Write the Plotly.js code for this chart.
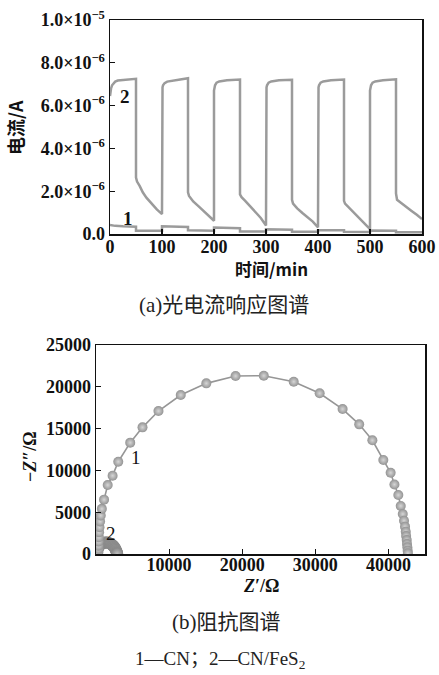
<!DOCTYPE html>
<html>
<head>
<meta charset="utf-8">
<script src="https://cdn.plot.ly/plotly-3.0.1.min.js"></script>
<style>html,body{margin:0;padding:0;background:#fff;}#chart{width:439px;height:675px;}</style>
</head>
<body>
<div id="chart"></div>
<script>
// ---------- (a) photocurrent response ----------
const timeMin_CN = [0,10,25,50,50,100,100,150,150,200,200,250,250,300,300,350,350,400,400,450,450,500,500,550,550,600];
const current_CN_uA = [0.42,0.38,0.36,0.34,0.15,0.15,0.36,0.33,0.17,0.15,0.30,0.27,0.12,0.12,0.22,0.20,0.10,0.10,0.18,0.17,0.10,0.09,0.16,0.15,0.08,0.08];

const timeMin_FeS2 = [
  0,1,2,4,7,10,15,25,35,45,50,
  50,52,57,63,70,77,83,90,100,
  100,101,102,105,110,120,135,150,
  150,152,160,170,180,190,200,
  200,201,202,205,210,225,250,
  250,253,260,270,280,290,300,
  300,301,302,305,310,325,350,
  350,352,360,370,380,390,400,
  400,401,402,405,410,425,450,
  450,452,460,470,480,490,500,
  500,501,502,505,510,525,550,
  550,552,560,570,580,590,600];
const current_FeS2_uA = [
  6.45,6.65,6.80,6.95,7.05,7.12,7.17,7.20,7.22,7.23,7.25,
  2.64,2.45,2.25,1.95,1.70,1.50,1.32,1.15,0.93,
  6.60,6.85,6.95,7.05,7.12,7.17,7.22,7.28,
  1.95,1.78,1.52,1.30,1.08,0.85,0.62,
  6.70,6.85,6.95,7.07,7.13,7.18,7.22,
  1.85,1.72,1.55,1.30,1.05,0.75,0.40,
  6.70,6.85,6.95,7.07,7.13,7.18,7.21,
  1.60,1.42,1.20,0.98,0.78,0.58,0.31,
  6.70,6.85,6.95,7.07,7.13,7.18,7.22,
  1.55,1.42,1.22,0.98,0.75,0.50,0.23,
  6.70,6.85,6.95,7.07,7.13,7.18,7.23,
  1.90,1.60,1.45,1.25,1.08,0.90,0.70];

const xTicksA = [0,100,200,300,400,500,600];
const xTickTextA = ['0','100','200','300','400','500','600'];
const yTickValsA = [0,2e-6,4e-6,6e-6,8e-6,1e-5];
const yTickTextA = ['0.0','2.0×10<sup>−6</sup>','4.0×10<sup>−6</sup>','6.0×10<sup>−6</sup>','8.0×10<sup>−6</sup>','1.0×10<sup>−5</sup>'];

// ---------- (b) impedance (Nyquist) ----------
const zRe_CN = [330,340,350,370,400,430,480,560,650,800,1100,1600,2270,3045,4680,6360,8545,11590,15090,19090,22950,27045,30590,33730,36000,37800,39300,40300,40820,41350,41680,41960,42130,42270,42370,42420,42500,42540,42590,42630,42660];
const zIm_CN = [250,600,1000,1500,2000,2600,3200,3900,4600,5400,6500,8250,9370,11040,13320,15150,17100,19020,20410,21290,21330,20610,19220,17340,15510,13600,11250,9720,8320,7050,5750,4780,3980,3270,2670,2150,1670,1200,800,400,80];

const zRe_FeS2 = [120,130,150,180,230,290,360,440,530,630,740,860,990,1120,1260,1400,1540,1680,1820,1960,2090,2220,2340,2450,2550,2640,2720,2790,2840,2880,2900];
const zIm_FeS2 = [20,180,350,500,640,760,870,970,1060,1140,1210,1270,1320,1355,1375,1380,1370,1345,1300,1240,1170,1080,980,870,750,620,480,340,220,110,30];

const xTicksB = [10000,20000,30000,40000];
const xTickTextB = ['10000','20000','30000','40000'];
const yTicksB = [0,5000,10000,15000,20000,25000];
const yTickTextB = ['0','5000','10000','15000','20000','25000'];

const W = 439, H = 675;
const px = v => v / W;
const py = v => 1 - v / H;
const bold = arr => arr.map(s => '<b>' + s + '</b>');

const gray = '#9b9b9b';
const numFont = {family: 'Liberation Serif', size: 18, color: '#111'};
const capFont = {family: 'Liberation Serif, Noto Sans CJK SC', size: 21, color: '#222'};

const traces = [
  {x: timeMin_CN, y: current_CN_uA.map(v => v * 1e-6), xaxis: 'x', yaxis: 'y', mode: 'lines',
   line: {color: gray, width: 2.5}, hoverinfo: 'skip'},
  {x: timeMin_FeS2, y: current_FeS2_uA.map(v => v * 1e-6), xaxis: 'x', yaxis: 'y', mode: 'lines',
   line: {color: gray, width: 2.5}, hoverinfo: 'skip'},
  {x: zRe_FeS2, y: zIm_FeS2, xaxis: 'x2', yaxis: 'y2', mode: 'lines+markers',
   line: {color: '#808080', width: 1.5},
   marker: {size: 12, color: '#858585', gradient: {type: 'radial', color: '#c0c0c0'}}, hoverinfo: 'skip'},
  {x: zRe_CN, y: zIm_CN, xaxis: 'x2', yaxis: 'y2', mode: 'lines+markers',
   line: {color: '#969696', width: 1.6},
   marker: {size: 10, color: '#939393', gradient: {type: 'radial', color: '#d6d6d6'}}, hoverinfo: 'skip'}
];

const axisCommon = {
  showline: true, mirror: true, linecolor: '#111', linewidth: 1.5,
  ticks: 'inside', ticklen: 5, tickwidth: 1.2, tickcolor: '#111',
  showgrid: false, zeroline: false, tickfont: numFont, automargin: false, fixedrange: true,
  tickmode: 'array'
};

const layout = {
  width: W, height: H,
  margin: {l: 0, r: 0, t: 0, b: 0},
  paper_bgcolor: '#fff', plot_bgcolor: '#fff',
  font: {family: 'Liberation Serif', color: '#111'},
  showlegend: false,
  xaxis: Object.assign({}, axisCommon, {domain: [px(110), px(422)], anchor: 'y', range: [0, 600],
    tickvals: xTicksA, ticktext: bold(xTickTextA), ticklabelstandoff: -4}),
  yaxis: Object.assign({}, axisCommon, {domain: [py(234), py(20)], anchor: 'x', range: [0, 1e-5],
    tickvals: yTickValsA, ticktext: bold(yTickTextA)}),
  xaxis2: Object.assign({}, axisCommon, {domain: [px(96), px(425)], anchor: 'y2', range: [0, 45000],
    tickvals: xTicksB, ticktext: bold(xTickTextB), ticklabelstandoff: -6}),
  yaxis2: Object.assign({}, axisCommon, {domain: [py(554), py(345)], anchor: 'x2', range: [0, 25000],
    tickvals: yTicksB, ticktext: bold(yTickTextB)}),
  annotations: [
    {xref: 'paper', yref: 'paper', x: px(15), y: py(128), text: '<b>电流/A</b>', textangle: -90,
     showarrow: false, font: {family: 'Noto Sans CJK SC, Liberation Serif', size: 18, color: '#111'}, xanchor: 'center', yanchor: 'middle'},
    {xref: 'paper', yref: 'paper', x: px(271), y: py(268), text: '<b>时间/min</b>',
     showarrow: false, font: {family: 'Noto Sans CJK SC, Liberation Serif', size: 17, color: '#111'}, xanchor: 'center', yanchor: 'middle'},
    {xref: 'x', yref: 'y', x: 29, y: 6.42e-6, text: '<b>2</b>', showarrow: false,
     font: {family: 'Liberation Serif', size: 19, color: '#111'}},
    {xref: 'x', yref: 'y', x: 35, y: 0.73e-6, text: '<b>1</b>', showarrow: false,
     font: {family: 'Liberation Serif', size: 19, color: '#111'}},
    {xref: 'paper', yref: 'paper', x: px(224), y: py(305), text: '(a)光电流响应图谱',
     showarrow: false, font: capFont, xanchor: 'center', yanchor: 'middle'},
    {xref: 'paper', yref: 'paper', x: px(30), y: py(457), text: '<b>−<i>Z</i>″/Ω</b>', textangle: -90,
     showarrow: false, font: {family: 'Liberation Serif', size: 18, color: '#111'}, xanchor: 'center', yanchor: 'middle'},
    {xref: 'paper', yref: 'paper', x: px(261), y: py(586), text: '<b><i>Z</i>′/Ω</b>',
     showarrow: false, font: {family: 'Liberation Serif', size: 18, color: '#111'}, xanchor: 'center', yanchor: 'middle'},
    {xref: 'x2', yref: 'y2', x: 5470, y: 11600, text: '1', showarrow: false,
     font: {family: 'Liberation Serif', size: 19, color: '#111'}},
    {xref: 'x2', yref: 'y2', x: 2050, y: 2480, text: '2', showarrow: false,
     font: {family: 'Liberation Serif', size: 19, color: '#111'}},
    {xref: 'paper', yref: 'paper', x: px(226), y: py(622), text: '(b)阻抗图谱',
     showarrow: false, font: capFont, xanchor: 'center', yanchor: 'middle'},
    {xref: 'paper', yref: 'paper', x: px(220), y: py(660), text: '1—CN；2—CN/FeS<sub>2</sub>',
     showarrow: false, font: {family: 'Liberation Serif, Noto Sans CJK SC', size: 19, color: '#222'}, xanchor: 'center', yanchor: 'middle'}
  ]
};

Plotly.newPlot('chart', traces, layout, {staticPlot: true, displayModeBar: false});
</script>
</body>
</html>
